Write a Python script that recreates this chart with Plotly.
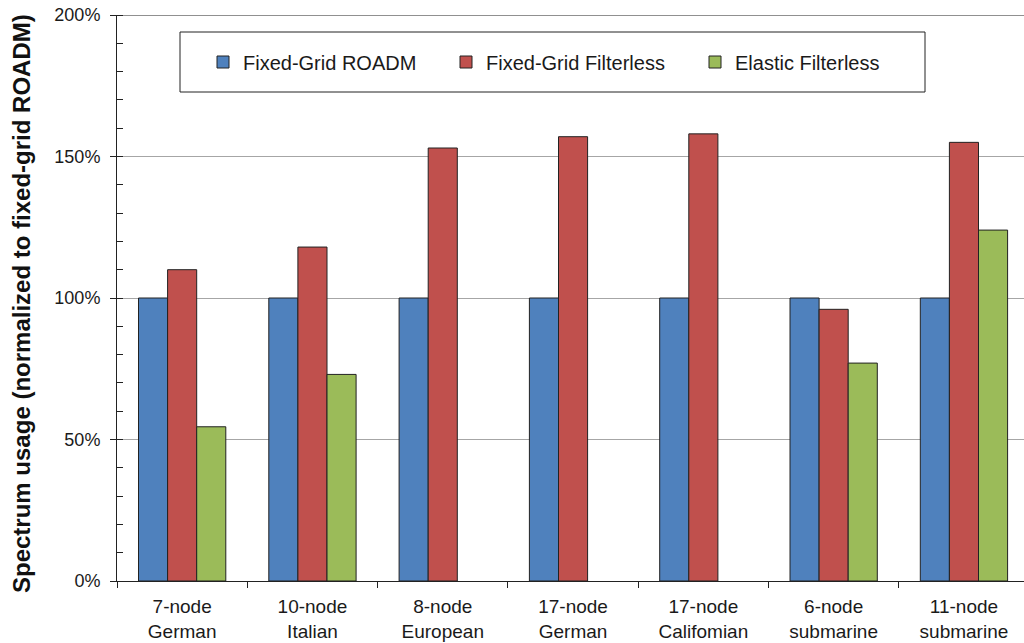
import plotly.graph_objects as go

categories = ["7-node<br>German", "10-node<br>Italian", "8-node<br>European", "17-node<br>German",
              "17-node<br>Califomian", "6-node<br>submarine", "11-node<br>submarine"]
series_names = ["Fixed-Grid ROADM", "Fixed-Grid Filterless", "Elastic Filterless"]
roadm = [100, 100, 100, 100, 100, 100, 100]
fixed_filterless = [110, 118, 153, 157, 158, 96, 155]
elastic_filterless = [54.5, 73, None, None, None, 77, 124]
colors = ["#4F81BD", "#C0504D", "#9BBB59"]

W, H = 1024, 643
L, R, T, B = 117, 0, 15, 62
pw, ph = W - L - R, H - T - B

def px_x(x):
    return (x - L) / pw

def px_y(y):
    return (H - B - y) / ph

legend_ids = ["legend", "legend2", "legend3"]
text_starts = [245, 488, 737]

fig = go.Figure()
for name, vals, c, lg in zip(series_names, [roadm, fixed_filterless, elastic_filterless], colors, legend_ids):
    fig.add_trace(go.Bar(
        x=categories, y=vals, name=name, legend=lg,
        marker=dict(color=c, line=dict(color="#222222", width=1)),
    ))

legend_common = dict(
    orientation="h", yanchor="middle", xanchor="left",
    font=dict(size=20, color="#1a1a1a"),
    bgcolor="rgba(0,0,0,0)", borderwidth=0,
)
legends = {}
for lg, ts in zip(legend_ids, text_starts):
    legends[lg] = dict(legend_common, x=px_x(ts - 42), y=px_y(62))

cat_w = 130.3
fig.update_layout(
    width=W, height=H,
    margin=dict(l=L, r=R, t=T, b=B),
    plot_bgcolor="white", paper_bgcolor="white",
    barmode="group", bargap=0.33, bargroupgap=0,
    font=dict(family="Liberation Sans, Arial, sans-serif", size=18, color="#1a1a1a"),
    showlegend=True,
    xaxis=dict(
        range=[-0.5, -0.5 + pw / cat_w], automargin=False,
        showline=True, linecolor="#222222", linewidth=1,
        ticks="outside", tickson="boundaries", ticklen=6, tickcolor="#222222",
        tickfont=dict(size=19, color="#1a1a1a"), ticklabelstandoff=8,
        showgrid=False, zeroline=False,
    ),
    yaxis=dict(
        range=[0, 200], dtick=50, ticksuffix="%", automargin=False,
        showline=True, linecolor="#222222", linewidth=1,
        ticks="outside", ticklen=6, tickcolor="#222222",
        tickfont=dict(size=18, color="#1a1a1a"), ticklabelstandoff=6,
        showgrid=True, gridcolor="#A6A6A6", gridwidth=1,
        zeroline=False,
        minor=dict(dtick=10, ticks="inside", ticklen=6, tickcolor="#222222", showgrid=False),
    ),
    annotations=[
        dict(text="<b>Spectrum usage (normalized to fixed-grid ROADM)</b>",
             textangle=-90, xref="paper", yref="paper",
             x=px_x(21), y=px_y(304), xanchor="center", yanchor="middle",
             showarrow=False, font=dict(size=24, color="#111111")),
    ],
    shapes=[
        dict(type="line", xref="paper", yref="y", x0=0, x1=1, y0=200, y1=200,
             line=dict(color="#222222", width=1)),
        dict(type="rect", xref="paper", yref="paper",
             x0=px_x(180), x1=px_x(925), y0=px_y(92), y1=px_y(32),
             line=dict(color="#222222", width=1), fillcolor="rgba(0,0,0,0)"),
    ],
    **legends,
)

fig.write_html("out.html", config={"displayModeBar": False},
               post_script="document.body.style.margin='0';document.body.style.overflow='hidden';")
